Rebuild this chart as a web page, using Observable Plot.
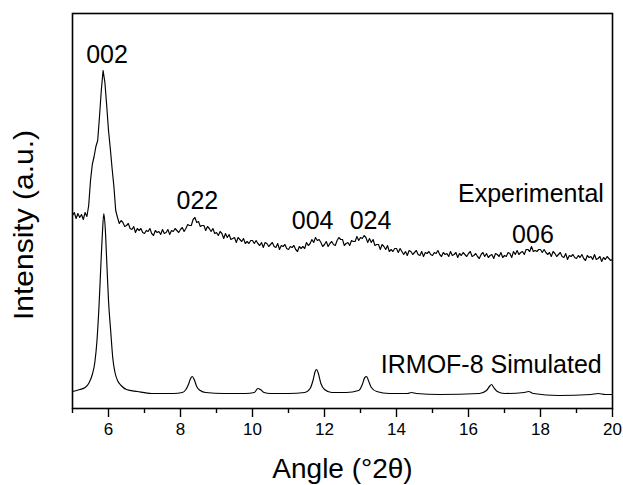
<!DOCTYPE html>
<html>
<head>
<meta charset="utf-8">
<script src="https://cdn.jsdelivr.net/npm/d3@7"></script>
<script src="https://cdn.jsdelivr.net/npm/@observablehq/plot@0.6"></script>
<style>
  html, body { margin: 0; padding: 0; background: #fff; }
  #chart { width: 623px; height: 485px; }
</style>
</head>
<body>
<div id="chart"></div>
<script>
// ---- Experimental pattern (angle in °2θ, intensity in a.u.) ----
const expAngles = [
  5,5.05,5.1,5.15,5.2,5.25,5.3,5.35,5.4,5.45,5.5,5.55,5.6,5.65,5.7,5.75,5.8,5.85,5.9,5.95,
  6,6.05,6.1,6.15,6.2,6.25,6.3,6.35,6.4,6.45,6.5,6.55,6.6,6.65,6.7,6.75,6.8,6.85,6.9,6.95,
  7,7.05,7.1,7.15,7.2,7.25,7.3,7.35,7.4,7.45,7.5,7.55,7.6,7.65,7.7,7.75,7.8,7.85,7.9,7.95,
  8,8.05,8.1,8.15,8.2,8.25,8.3,8.35,8.4,8.45,8.5,8.55,8.6,8.65,8.7,8.75,8.8,8.85,8.9,8.95,
  9,9.05,9.1,9.15,9.2,9.25,9.3,9.35,9.4,9.45,9.5,9.55,9.6,9.65,9.7,9.75,9.8,9.85,9.9,9.95,
  10,10.05,10.1,10.15,10.2,10.25,10.3,10.35,10.4,10.45,10.5,10.55,10.6,10.65,10.7,10.75,10.8,10.85,10.9,10.95,
  11,11.05,11.1,11.15,11.2,11.25,11.3,11.35,11.4,11.45,11.5,11.55,11.6,11.65,11.7,11.75,11.8,11.85,11.9,11.95,
  12,12.05,12.1,12.15,12.2,12.25,12.3,12.35,12.4,12.45,12.5,12.55,12.6,12.65,12.7,12.75,12.8,12.85,12.9,12.95,
  13,13.05,13.1,13.15,13.2,13.25,13.3,13.35,13.4,13.45,13.5,13.55,13.6,13.65,13.7,13.75,13.8,13.85,13.9,13.95,
  14,14.05,14.1,14.15,14.2,14.25,14.3,14.35,14.4,14.45,14.5,14.55,14.6,14.65,14.7,14.75,14.8,14.85,14.9,14.95,
  15,15.05,15.1,15.15,15.2,15.25,15.3,15.35,15.4,15.45,15.5,15.55,15.6,15.65,15.7,15.75,15.8,15.85,15.9,15.95,
  16,16.05,16.1,16.15,16.2,16.25,16.3,16.35,16.4,16.45,16.5,16.55,16.6,16.65,16.7,16.75,16.8,16.85,16.9,16.95,
  17,17.05,17.1,17.15,17.2,17.25,17.3,17.35,17.4,17.45,17.5,17.55,17.6,17.65,17.7,17.75,17.8,17.85,17.9,17.95,
  18,18.05,18.1,18.15,18.2,18.25,18.3,18.35,18.4,18.45,18.5,18.55,18.6,18.65,18.7,18.75,18.8,18.85,18.9,18.95,
  19,19.05,19.1,19.15,19.2,19.25,19.3,19.35,19.4,19.45,19.5,19.55,19.6,19.65,19.7,19.75,19.8,19.85,19.9,19.95,
  20
];
const expIntensity = [
  193,196,190,195,191,194,189,196,192,203,228,244,252,262,268,292,318,338,326,303,
  278,260,240,222,198,191,185,188,186,182,183,185,180,179,182,176,180,178,180,176,
  175,178,177,180,175,173,178,176,177,174,179,175,176,179,174,178,177,180,178,176,
  179,181,177,180,184,183,183,189,191,186,187,182,183,183,178,182,180,177,180,175,
  176,173,177,175,170,175,171,174,169,170,171,166,171,169,167,170,165,167,165,168,
  168,165,168,165,163,166,161,166,165,162,164,166,162,161,165,159,163,162,164,160,
  159,162,161,163,159,157,162,160,162,160,166,163,165,169,166,171,168,169,166,162,
  164,167,162,165,167,164,163,168,171,169,169,163,165,166,163,168,167,167,172,168,
  171,170,173,171,166,170,166,169,163,164,164,159,164,162,159,163,157,159,157,160,
  160,156,160,157,154,157,153,158,157,154,156,158,154,153,157,152,156,155,157,154,
  153,156,155,158,154,152,156,154,155,152,157,153,154,156,151,155,153,156,154,152,
  155,157,152,153,155,152,150,154,156,152,155,151,153,154,150,155,154,152,156,151,
  153,152,156,155,151,157,154,158,154,156,157,154,159,159,157,162,157,158,157,159,
  159,156,159,156,154,156,152,157,155,152,154,156,152,151,155,149,153,152,154,151,
  150,153,151,154,150,148,153,151,152,149,154,149,150,152,147,151,149,152,150,148,
  149
];

// ---- Simulated IRMOF-8 pattern ----
const simAngles = [
  5.00,5.20,5.35,5.45,5.55,5.62,5.68,5.74,5.79,5.83,5.87,5.91,5.95,6.00,6.06,6.12,6.18,6.25,6.35,6.50,
  6.80,7.20,7.80,8.05,8.15,8.22,8.28,8.33,8.38,8.45,8.55,8.70,9.20,9.80,10.05,10.15,10.22,10.32,10.50,11.00,
  11.45,11.60,11.68,11.74,11.78,11.83,11.90,12.00,12.20,12.60,12.95,13.05,13.12,13.17,13.22,13.30,13.45,13.80,14.30,14.42,
  14.55,15.20,16.30,16.50,16.58,16.64,16.70,16.80,17.00,17.55,17.67,17.80,18.50,19.40,19.60,19.80,20.00
];
const simIntensity = [
  17,19,21,25,34,46,68,105,145,175,195,180,148,108,78,50,36,28,23,19,
  17,15,15,16,19,24,30,32,29,22,18,16,15,15,16,20,19,16,15,15,
  16,20,28,37,39,35,25,19,16,16,18,24,31,32,28,21,17,15,15,16,
  15,14,15,18,22,24,21,17,15,16,17,15,13,14,15,14,14
];

// ---- Axis ticks ----
const majorTicks = [6, 8, 10, 12, 14, 16, 18, 20];
const minorTicks = [5, 7, 9, 11, 13, 15, 17, 19];

// ---- Text ----
const peakLabels = ["002", "022", "004", "024", "006"];
const peakLabelAngles = [5.96, 8.47, 11.67, 13.28, 17.79];
const peakLabelIntensity = [346, 200, 180, 180, 166];
const seriesNames = ["Experimental", "IRMOF-8 Simulated"];
const seriesNameAngles = [19.76, 19.70];
const seriesNameIntensity = [207, 36];
const xTitle = "Angle (°2θ)";
const yTitle = "Intensity (a.u.)";

const expData = expAngles.map((a, i) => ({angle: a, intensity: expIntensity[i]}));
const simData = simAngles.map((a, i) => ({angle: a, intensity: simIntensity[i]}));
const peakData = peakLabels.map((t, i) => ({t, a: peakLabelAngles[i], v: peakLabelIntensity[i]}));
const nameData = seriesNames.map((t, i) => ({t, a: seriesNameAngles[i], v: seriesNameIntensity[i]}));

const FONT = "'Liberation Sans', Arial, Helvetica, sans-serif";

const chart = Plot.plot({
  width: 623,
  height: 485,
  marginLeft: 72,
  marginRight: 11,
  marginTop: 13,
  marginBottom: 77,
  style: {fontFamily: FONT, background: "#fff", color: "#000", overflow: "visible"},
  x: {domain: [5, 20]},
  y: {domain: [0, 395], axis: null},
  marks: [
    Plot.axisX({ticks: minorTicks, tickSize: 5, tickFormat: () => "", label: null, strokeWidth: 1.4}),
    Plot.axisX({ticks: majorTicks, tickSize: 9, tickPadding: 5, tickFormat: d => String(d), label: null, fontSize: 17, strokeWidth: 1.4}),
    Plot.line(simData, {x: "angle", y: "intensity", stroke: "#000", strokeWidth: 1.15, curve: "monotone-x"}),
    Plot.line(expData, {x: "angle", y: "intensity", stroke: "#000", strokeWidth: 1.15}),
    Plot.frame({stroke: "#000", strokeWidth: 1.6}),
    Plot.text(peakData, {x: "a", y: "v", text: "t", fontSize: 25, lineAnchor: "bottom", textAnchor: "middle", fill: "#000"}),
    Plot.text(nameData, {x: "a", y: "v", text: "t", fontSize: 25, lineAnchor: "bottom", textAnchor: "end", fill: "#000"}),
    Plot.text([xTitle], {frameAnchor: "bottom", text: d => d, dy: 69, lineAnchor: "bottom", textAnchor: "middle", fontSize: 28, fill: "#000"}),
    Plot.text([yTitle], {frameAnchor: "left", text: d => d, dx: -48, dy: 14, rotate: -90, lineAnchor: "middle", textAnchor: "middle", fontSize: 28, fill: "#000", className: "ytitle"})
  ]
});
document.getElementById("chart").appendChild(chart);

// the reference's axis title is set in a slightly wider face: stretch it to its length
const yt = chart.querySelector(".ytitle text");
if (yt) {
  yt.setAttribute("textLength", 190);
  yt.setAttribute("lengthAdjust", "spacingAndGlyphs");
}
</script>
</body>
</html>
